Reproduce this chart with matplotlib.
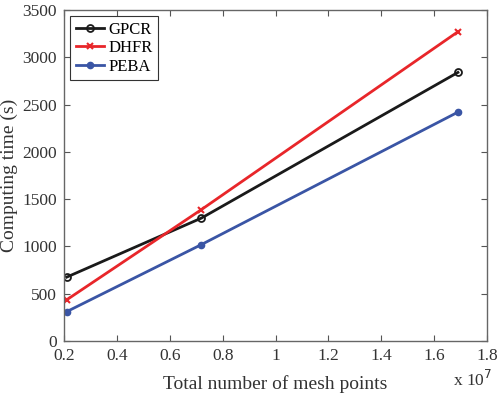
import matplotlib
import matplotlib.pyplot as plt
import numpy as np

matplotlib.use("Agg")

# Data
mesh_points = [0.21, 0.72, 1.69]  # x 1e7
gpcr = [675, 1300, 2840]
dhfr = [435, 1390, 3270]
peba = [310, 1020, 2420]

x_ticks = [0.2, 0.4, 0.6, 0.8, 1.0, 1.2, 1.4, 1.6, 1.8]
x_tick_labels = ["0.2", "0.4", "0.6", "0.8", "1", "1.2", "1.4", "1.6", "1.8"]
y_ticks = np.arange(0, 3501, 500)

plt.rcParams["font.family"] = ["Liberation Serif", "DejaVu Serif"]

fig = plt.figure(figsize=(4.98, 3.94), dpi=100)
ax = fig.add_axes([64 / 498, 53 / 394, 423 / 498, 331 / 394])

ax.plot(mesh_points, gpcr, color="#1a1a1a", lw=2, marker="o", ms=5,
        mfc="none", mew=1.3, label="GPCR")
ax.plot(mesh_points, dhfr, color="#e8262a", lw=2, marker="x", ms=4,
        mew=1.5, label="DHFR")
ax.plot(mesh_points, peba, color="#3a55a5", lw=2, marker="o", ms=4.5,
        label="PEBA")

ax.set_xlim(0.2, 1.8)
ax.set_ylim(0, 3500)
ax.set_xticks(x_ticks)
ax.set_xticklabels(x_tick_labels)
ax.set_yticks(y_ticks)

ax.tick_params(direction="in", length=4, colors="#555555", labelsize=12.5,
               labelcolor="#333333", top=True, right=True)
ax.tick_params(axis="y", pad=5)
ax.tick_params(axis="x", pad=5)
for s in ax.spines.values():
    s.set_color("#666666")
    s.set_linewidth(1)

ax.set_xlabel("Total number of mesh points", fontsize=14, color="#333333", labelpad=8)
ax.set_ylabel("Computing time (s)", fontsize=14, color="#333333", labelpad=3)

fig.text(473 / 498, 1 - 386 / 394, r"x 10$^{7}$", fontsize=12.5, color="#333333",
         ha="center", va="baseline")

leg = ax.legend(loc="upper left", fontsize=12, fancybox=False, framealpha=1,
                edgecolor="#333333", handlelength=1.7, borderaxespad=0.35,
                handletextpad=0.25, labelspacing=0.15, borderpad=0.35)
leg.get_frame().set_linewidth(0.8)

fig.savefig("out.png", dpi=100)
